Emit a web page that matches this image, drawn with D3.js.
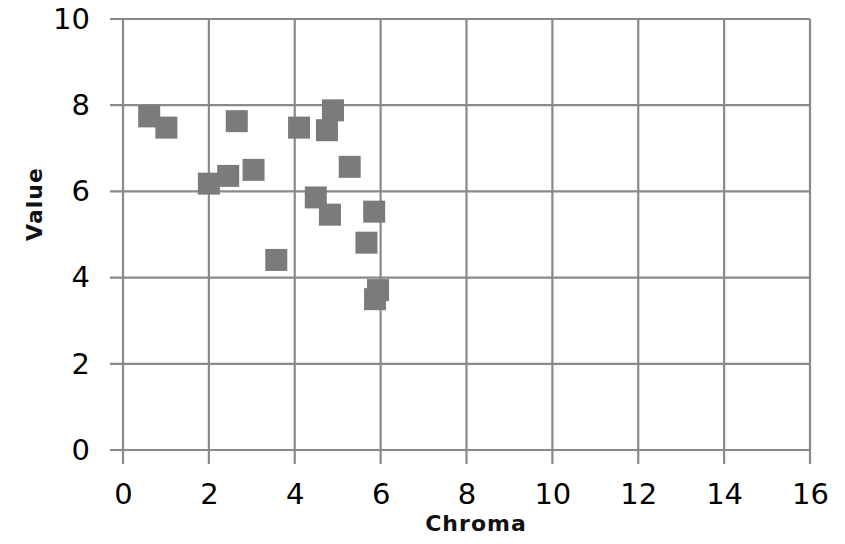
<!DOCTYPE html>
<html>
<head>
<meta charset="utf-8">
<script src="https://cdn.jsdelivr.net/npm/d3@7"></script>
<style>
  body { margin: 0; background: #fff; }
  .tick text { font-family: "DejaVu Sans", Verdana, sans-serif; font-size: 29px; fill: #000; }
  .axisTitle { font-family: "DejaVu Sans", Verdana, sans-serif; font-size: 22px; font-weight: bold; letter-spacing: 1px; fill: #111; }
</style>
</head>
<body>
<script>
// Data
var chroma = [0.61, 1.01, 2.65, 2.0, 2.45, 3.04, 3.57, 4.10, 4.89, 4.75, 5.28, 4.49, 4.82, 5.85, 5.67, 5.94, 5.87];
var value  = [7.74, 7.48, 7.63, 6.18, 6.36, 6.50, 4.41, 7.48, 7.88, 7.42, 6.57, 5.86, 5.46, 5.53, 4.81, 3.71, 3.50];
var xTicks = [0, 2, 4, 6, 8, 10, 12, 14, 16];
var yTicks = [0, 2, 4, 6, 8, 10];

var svgWidth = 845;
var svgHeight = 544;
var margin = { top: 19, right: 35, bottom: 94, left: 123 };
var width = svgWidth - margin.left - margin.right;
var height = svgHeight - margin.top - margin.bottom;
var gridColor = "#898989";

var svg = d3.select("body").append("svg")
  .attr("width", svgWidth)
  .attr("height", svgHeight);

var chart = svg.append("g")
  .attr("transform", `translate(${margin.left}, ${margin.top})`);

var x = d3.scaleLinear().domain([0, 16]).range([0, width]);
var y = d3.scaleLinear().domain([0, 10]).range([height, 0]);

// gridlines
chart.append("g").selectAll("line").data(yTicks).enter().append("line")
  .attr("x1", -13).attr("x2", width)
  .attr("y1", d => y(d)).attr("y2", d => y(d))
  .attr("stroke", gridColor).attr("stroke-width", 2.2);

chart.append("g").selectAll("line").data(xTicks).enter().append("line")
  .attr("y1", 0).attr("y2", height + 14)
  .attr("x1", d => x(d)).attr("x2", d => x(d))
  .attr("stroke", gridColor).attr("stroke-width", 2.2);

// axes (labels only, lines drawn above)
var xAxis = chart.append("g")
  .attr("transform", `translate(0, ${height})`)
  .call(d3.axisBottom(x).tickValues(xTicks).tickSize(14).tickPadding(24).tickFormat(d3.format("d")));
var yAxis = chart.append("g")
  .call(d3.axisLeft(y).tickValues(yTicks).tickSize(13).tickPadding(20).tickFormat(d3.format("d")));
[xAxis, yAxis].forEach(function(a) {
  a.select(".domain").remove();
  a.selectAll(".tick line").remove();
});
xAxis.selectAll(".tick text").attr("dy", "0.55em");

// points
chart.append("g").selectAll("rect").data(chroma).enter().append("rect")
  .attr("x", (d, i) => x(d) - 11)
  .attr("y", (d, i) => y(value[i]) - 11)
  .attr("width", 22)
  .attr("height", 22)
  .attr("fill", "#7b7b7b");

// axis titles
svg.append("text")
  .attr("class", "axisTitle")
  .attr("text-anchor", "middle")
  .attr("x", 476)
  .attr("y", 531)
  .text("Chroma");

svg.append("text")
  .attr("class", "axisTitle")
  .attr("text-anchor", "middle")
  .attr("transform", "translate(42, 204) rotate(-90)")
  .text("Value");
</script>
</body>
</html>
